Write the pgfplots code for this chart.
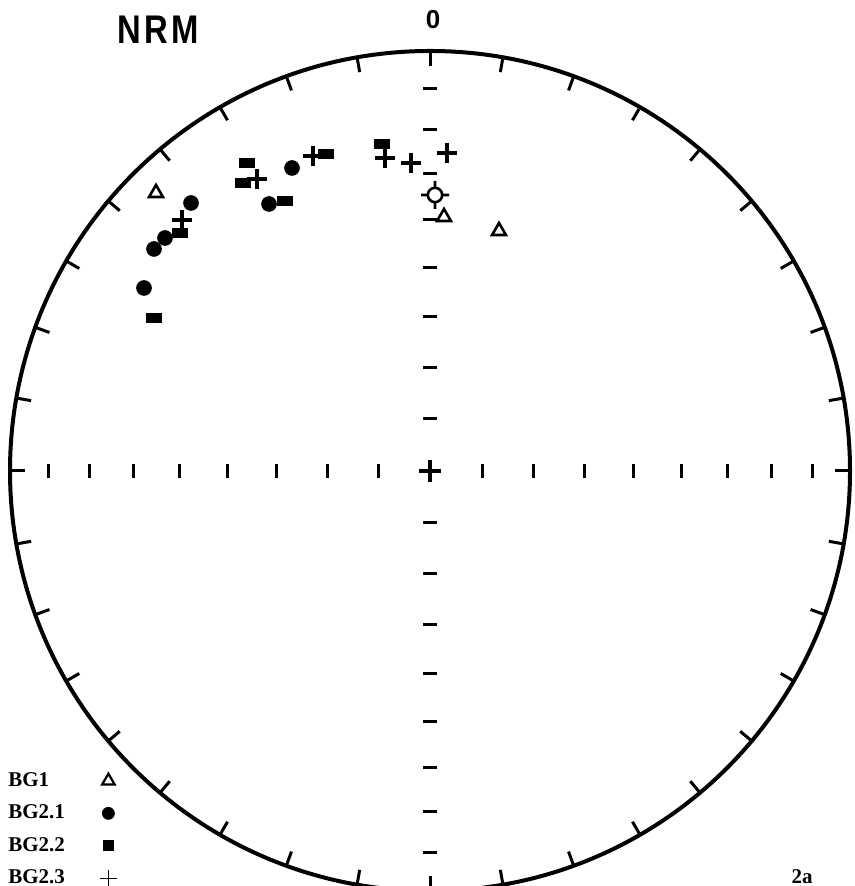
\documentclass[border=0pt]{standalone}
\usepackage{pgfplots}
\pgfplotsset{compat=1.18}
\usepackage{fontspec}
\setmainfont{Liberation Serif}
\newfontfamily\sansf{Liberation Sans}
\pgfdeclareplotmark{rsq}{%
  \pgfpathrectangle{\pgfpoint{-3.8pt}{-2.6pt}}{\pgfpoint{7.6pt}{5.2pt}}%
  \pgfusepathqfill}
\pgfdeclareplotmark{lsq}{%
  \pgfpathrectangle{\pgfpoint{-2.8pt}{-2.8pt}}{\pgfpoint{5.6pt}{5.6pt}}%
  \pgfusepathqfill}
\pgfdeclareplotmark{xhair}{%
  \pgfpathcircle{\pgfpointorigin}{3.6pt}%
  \pgfpathmoveto{\pgfpoint{0pt}{3.6pt}}\pgfpathlineto{\pgfpoint{0pt}{7pt}}%
  \pgfpathmoveto{\pgfpoint{0pt}{-3.6pt}}\pgfpathlineto{\pgfpoint{0pt}{-7pt}}%
  \pgfpathmoveto{\pgfpoint{3.6pt}{0pt}}\pgfpathlineto{\pgfpoint{7pt}{0pt}}%
  \pgfpathmoveto{\pgfpoint{-3.6pt}{0pt}}\pgfpathlineto{\pgfpoint{-7pt}{0pt}}%
  \pgfusepathqstroke}
\begin{document}
\begin{tikzpicture}
\begin{axis}[
  width=427pt, height=443pt, scale only axis,
  xmin=-430, xmax=424, ymin=-415, ymax=471,
  hide axis, clip=true,
  legend plot pos=right,
  legend cell align=left,
  legend style={draw=none, fill=none, at={(axis cs:-426,-297)}, anchor=north west,
    font=\bfseries\fontsize{10.5}{12}\selectfont, row sep=3.8pt, column sep=15.5pt,
    inner sep=0pt},
]
% stereonet frame
\draw[line width=2pt] (axis cs:0,0) circle [radius=420];
\pgfplotsinvokeforeach{0,10,...,350}{%
  \draw[line width=1.5pt] (axis cs:{420*sin(#1)},{420*cos(#1)}) -- (axis cs:{405*sin(#1)},{405*cos(#1)});
}
\pgfplotsinvokeforeach{52,103,154,203,251,297,341,382}{%
  \draw[line width=1.5pt] (axis cs:#1,-7) -- (axis cs:#1,7);
  \draw[line width=1.5pt] (axis cs:-#1,-7) -- (axis cs:-#1,7);
  \draw[line width=1.5pt] (axis cs:-7,#1) -- (axis cs:7,#1);
  \draw[line width=1.5pt] (axis cs:-7,-#1) -- (axis cs:7,-#1);
}
\draw[line width=1.6pt] (axis cs:-11,0) -- (axis cs:11,0) (axis cs:0,-11) -- (axis cs:0,11);
% labels
\node[font=\sansf\bfseries\fontsize{13}{13}\selectfont] at (axis cs:3,451) {0};
\node at (axis cs:-272,441) {\scalebox{0.82}[1]{\sansf\bfseries\fontsize{20}{20}\selectfont\addfontfeature{LetterSpace=10}NRM}};
\node[font=\bfseries\fontsize{10.5}{12}\selectfont] at (axis cs:372,-406) {2a};
\coordinate (SW) at (axis cs:-430,-415);
\coordinate (NE) at (axis cs:424,471);
% data
\addplot[only marks, forget plot, mark=triangle*, mark size=4pt,
  mark options={draw=black, fill=white, line width=1.3pt}]
  coordinates {(-274,278) (14,254) (69,240)};
\addplot[only marks, forget plot, mark=*, mark size=3.7pt, black]
  coordinates {(-239,268) (-265,233) (-276,222) (-286,183) (-138,303) (-161,267)};
\addplot[only marks, forget plot, mark=rsq, black]
  coordinates {(-250,238) (-276,153) (-183,308) (-187,288) (-104,317) (-145,270) (-48,327)};
\addplot[only marks, forget plot, mark=+, mark size=5pt, black, line width=1.6pt]
  coordinates {(-248,251) (-173,292) (-117,315) (-45,313) (-19,308) (17,318)};
\addplot[only marks, forget plot, mark=xhair, black, line width=1.3pt]
  coordinates {(5,276)};
% legend
\addlegendimage{only marks, mark=triangle*, mark size=3.6pt, mark options={draw=black, fill=white, line width=1.1pt}}
\addlegendentry{BG1}
\addlegendimage{only marks, mark=*, mark size=3pt, black}
\addlegendentry{BG2.1}
\addlegendimage{only marks, mark=lsq, black}
\addlegendentry{BG2.2}
\addlegendimage{only marks, mark=+, mark size=4.2pt, black, line width=0.6pt}
\addlegendentry{BG2.3}
\end{axis}
\pgfresetboundingbox
\useasboundingbox (SW) rectangle (NE);
\end{tikzpicture}
\end{document}
